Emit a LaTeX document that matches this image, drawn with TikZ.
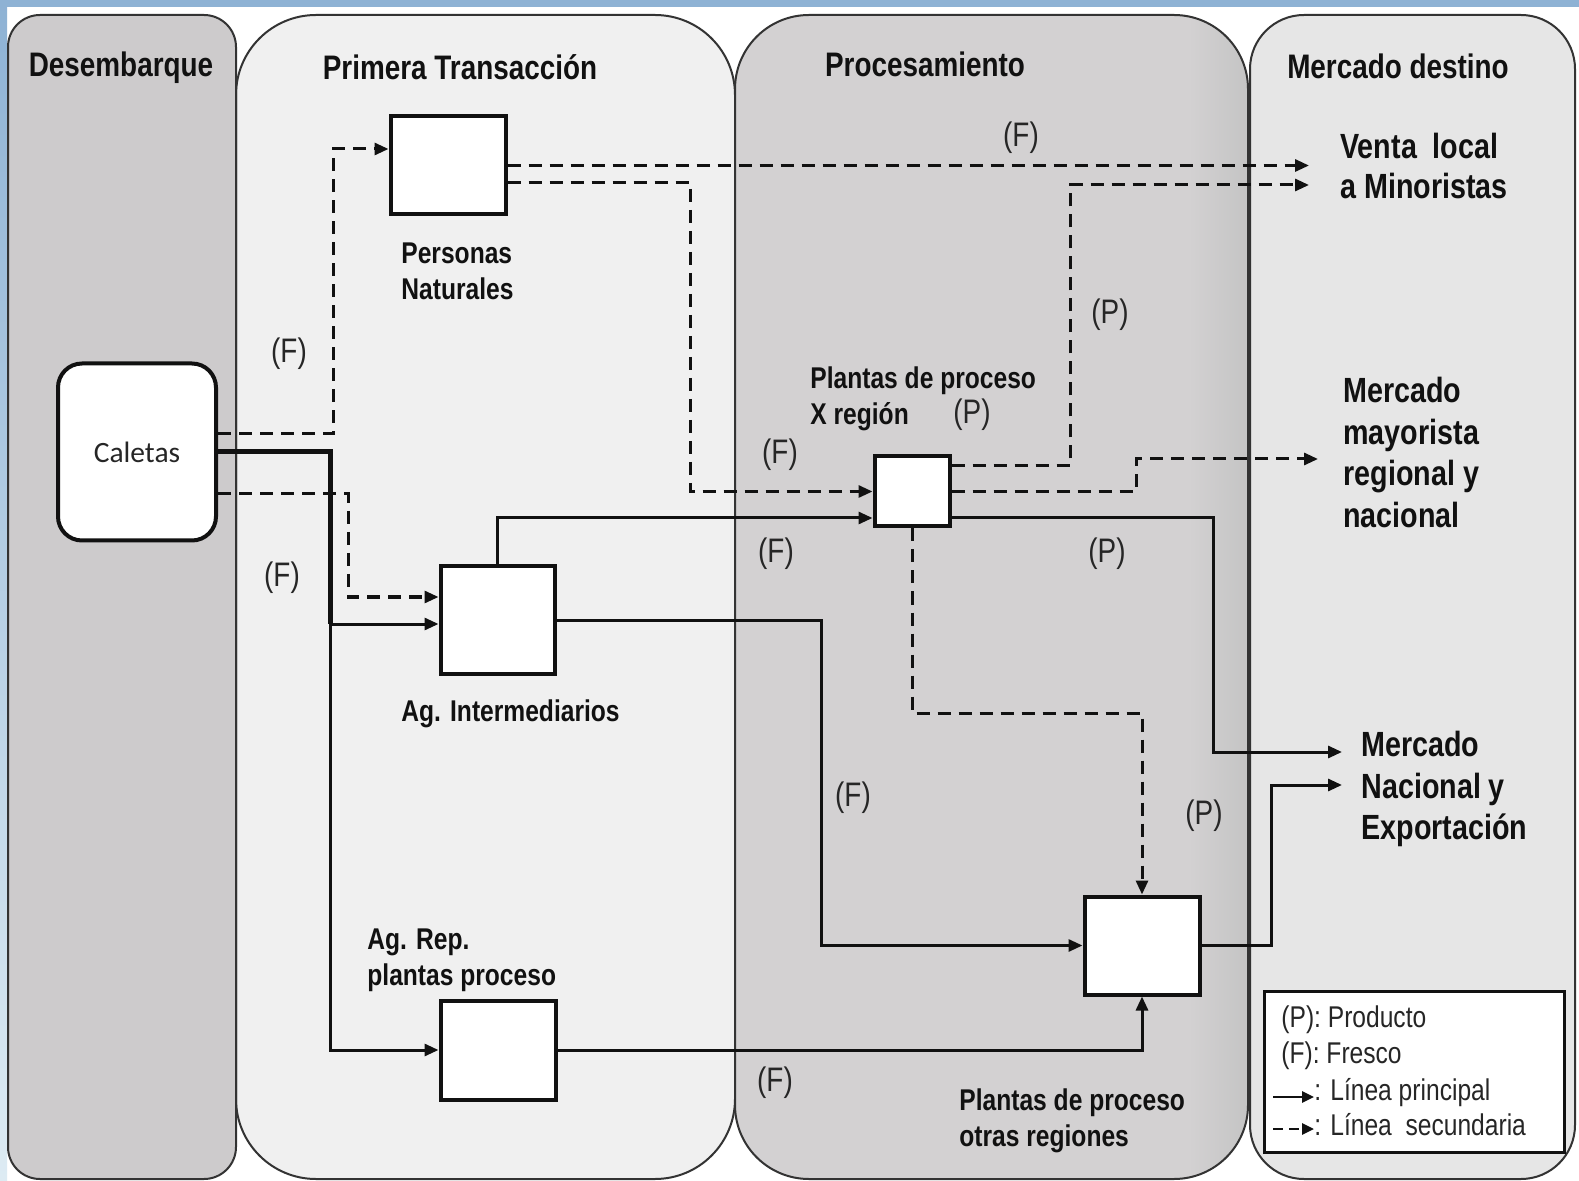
\documentclass[tikz,border=0pt]{standalone}
\usepackage{fontspec}
\setmainfont{Liberation Sans}[FakeStretch=0.82]
\newfontfamily\calfont{Carlito}
\usetikzlibrary{arrows.meta,calc}
\definecolor{bluebg}{HTML}{8EB2D4}
\definecolor{bluelight}{HTML}{DDEBF3}
\definecolor{laneA}{HTML}{CDCBCC}
\definecolor{laneB}{HTML}{F0F0F0}
\definecolor{laneC}{HTML}{D3D1D2}
\definecolor{laneD}{HTML}{E6E6E6}
\definecolor{ink}{HTML}{111111}
\begin{document}
\begin{tikzpicture}[x=0.5pt,y=-0.5pt,
  lane/.style={draw=black!80, line width=1pt},
  box/.style={draw=ink, fill=white, line width=2pt, inner sep=0pt},
  title/.style={font=\fontsize{17}{20}\selectfont\bfseries, text=ink, inner sep=0pt},
  lbl/.style={font=\fontsize{15}{17.75}\selectfont\bfseries, text=ink, inner sep=0pt, align=left},
  mkt/.style={font=\fontsize{17.5}{20.75}\selectfont\bfseries, text=ink, inner sep=0pt, align=left},
  tag/.style={font=\fontsize{17}{20}\selectfont, text=black!85, inner sep=0pt},
  leg/.style={font=\fontsize{15}{18}\selectfont, text=black!85, inner sep=0pt},
  sline/.style={draw=ink, line width=1.5pt, -{Triangle[length=7pt,width=6pt]}},
  dline/.style={sline, dash pattern=on 6.5pt off 4pt},
  mainline/.style={draw=ink, line width=2.5pt},
  legarrow/.style={draw=ink, line width=1.4pt, -{Triangle[length=6pt,width=5.5pt]}}
]
% background and frame
\useasboundingbox (0,0) rectangle (1579,1181);
\fill[white] (0,0) rectangle (1579,1181);
\shade[top color=bluebg, bottom color=bluelight] (0,0) rectangle (7,1181);
\fill[bluebg] (0,0) rectangle (1579,7);

% lanes
\filldraw[lane, fill=laneB, rounded corners=40pt] (236,15) rectangle (735,1179);
\filldraw[lane, fill=laneA, rounded corners=16pt] (8,15) rectangle (236,1179);
\fill[laneC, rounded corners=37pt] (735,15) rectangle (1248,1179);
\begin{scope}
  \clip[rounded corners=37pt] (735,15) rectangle (1248,1179);
  \shade[left color=laneC, right color=black!23] (1188,15) rectangle (1248,1179);
\end{scope}
\draw[lane, rounded corners=37pt] (735,15) rectangle (1248,1179);
\filldraw[lane, fill=laneD, rounded corners=27pt] (1250,15) rectangle (1575,1179);

% titles
\node[title, anchor=base] (t1) at (121,77) {Desembarque};
\node[title, anchor=base] (t2) at (460,80) {Primera Transacción};
\node[title, anchor=base] (t3) at (925,77) {Procesamiento};
\node[title, anchor=base] (t4) at (1398,79) {Mercado destino};

% boxes
\node[box, rounded corners=12pt, minimum width=79pt, minimum height=88.5pt] (cal) at (137,452)
  {\calfont\fontsize{14.75}{17}\selectfont\color{black!85}Caletas};
\node[box, minimum width=57.5pt, minimum height=49pt] (pn) at (448,165.5) {};
\node[box, minimum width=57pt, minimum height=53.5pt] (ai) at (497.5,620) {};
\node[box, minimum width=57.5pt, minimum height=49.5pt] (ar) at (498,1050) {};
\node[box, minimum width=37.5pt, minimum height=35pt] (px) at (912,491.5) {};
\node[box, minimum width=57.5pt, minimum height=49pt] (po) at (1142,945.5) {};

% box labels
\node[lbl, anchor=north west] (pnl) at (401,242.5) {Personas\\Naturales};
\node[lbl, anchor=base west] (ail) at (401,721) {Ag. Intermediarios};
\node[lbl, anchor=north west] (arl) at (367,928.5) {Ag. Rep.\\plantas proceso};
\node[lbl, anchor=north west] (pxl) at (810,366.5) {Plantas de proceso\\X región};
\node[lbl, anchor=north west] (pol) at (959,1088.5) {Plantas de proceso\\otras regiones};

% market labels
\node[mkt, anchor=north west, font=\fontsize{17.5}{20}\selectfont\bfseries] (venta) at (1340,133) {Venta\ \ local\\a Minoristas};
\node[mkt, anchor=north west] (mayor) at (1343,377) {Mercado\\mayorista\\regional y\\nacional};
\node[mkt, anchor=north west] (nac) at (1361,731) {Mercado\\Nacional y\\Exportación};

% arrow targets
\coordinate (vl1) at (1309,165.5);
\coordinate (vl2) at (1309,185);
\coordinate (mm) at (1318,459);
\coordinate (mn1) at (1342,752);
\coordinate (mn2) at (1342,785);
\coordinate (j1) at (330,624);

% connectors
\draw[dline] ([yshift=9pt]cal.east) -| (333,149) -- ([yshift=8.25pt]pn.west);
\draw[mainline] (cal.east) -| (j1);
\draw[sline] (j1) -- ([yshift=-2pt]ai.west);
\draw[sline] (j1) |- (ar.west);
\draw[dline] ([yshift=-21pt]cal.east) -| (348,597) -- ([yshift=11.5pt]ai.west);
\draw[dline] (pn.east) -- (vl1);
\draw[dline] ([yshift=-8.5pt]pn.east) -| (690,491.5) -- (px.west);
\draw[sline] (ai.north) |- ([yshift=-13.25pt]px.west);
\draw[sline] (ai.east) -| (821,945.5) -- (po.west);
\draw[sline] (ar.east) -| (po.south);
\draw[dline] ([yshift=12.75pt]px.east) -| (1070,185) -- (vl2);
\draw[dline] (px.east) -| (1136,459) -- (mm);
\draw[sline] ([yshift=-13.25pt]px.east) -| (1213,752) -- (mn1);
\draw[dline] (px.south) |- (1142,713) -- (po.north);
\draw[sline] (po.east) -| (1271,785) -- (mn2);

% tags
\node[tag] (f1) at (289,354) {(F)};
\node[tag] (f2) at (282,578) {(F)};
\node[tag] (f3) at (1021,138) {(F)};
\node[tag] (f4) at (780,455) {(F)};
\node[tag] (f5) at (776,554) {(F)};
\node[tag] (f6) at (853,798) {(F)};
\node[tag] (f7) at (775,1083) {(F)};
\node[tag] (p1) at (1110,315) {(P)};
\node[tag] (p2) at (972,415) {(P)};
\node[tag] (p3) at (1107,554) {(P)};
\node[tag] (p4) at (1204,816) {(P)};

% legend
\node[draw=ink, line width=1.5pt, fill=white, minimum width=150pt, minimum height=80.5pt, inner sep=0pt] (legend) at (1414,1072) {};
\node[leg, anchor=base west] (lp) at (1281,1027) {(P): Producto};
\node[leg, anchor=base west] (lf) at (1281,1063) {(F): Fresco};
\node[leg, anchor=base west] (lsol) at (1314,1100) {: Línea principal};
\node[leg, anchor=base west] (ldash) at (1314,1135) {: Línea\ \ secundaria};
\coordinate (la1) at (1273,1097);
\coordinate (la2) at (1273,1129);
\draw[legarrow] (la1) -- (lsol.west |- la1);
\draw[legarrow, dash pattern=on 5pt off 3pt] (la2) -- (ldash.west |- la2);
\end{tikzpicture}
\end{document}
